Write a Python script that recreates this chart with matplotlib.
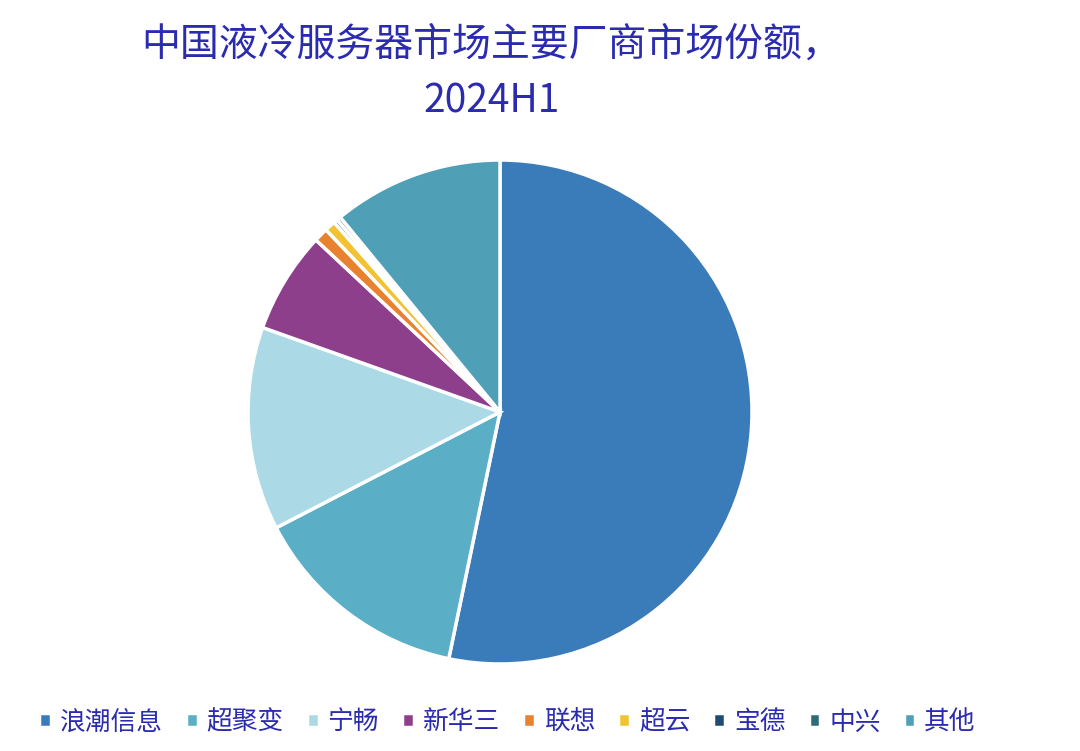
import matplotlib
matplotlib.use("Agg")
import matplotlib.pyplot as plt

plt.rcParams['font.family'] = ['Noto Sans CJK SC', 'DejaVu Sans']

vendors = ["浪潮信息", "超聚变", "宁畅", "新华三", "联想", "超云", "宝德", "中兴", "其他"]
shares = [53.1, 14.1, 13.0, 6.5, 0.9, 0.7, 0.25, 0.25, 10.9]
colors = ["#3A7BBA", "#5AAFC6", "#ABDAE6", "#8E3F8B", "#E8822E",
          "#F2C232", "#1F4A73", "#2E6B78", "#4FA0B6"]

title = "中国液冷服务器市场主要厂商市场份额，\n2024H1"
text_color = "#2B2BB0"

fig = plt.figure(figsize=(10.8, 7.51), dpi=100)
ax = fig.add_axes([248 / 1080, 87 / 751, 504 / 1080, 504 / 751])

wedges, _ = ax.pie(shares, colors=colors, startangle=90, counterclock=False,
                   wedgeprops=dict(edgecolor="white", linewidth=2.5))
ax.set_xlim(-1.0, 1.0)
ax.set_ylim(-1.0, 1.0)
ax.set_aspect("equal")

fig.text(0.455, 0.903, title, ha="center", va="center", fontsize=28,
         color=text_color, linespacing=1.55)

leg = fig.legend(wedges, vendors, loc="center", bbox_to_anchor=(0.47, 0.038),
                 ncol=9, frameon=False, fontsize=18.5, handlelength=0.45,
                 handleheight=0.45, handletextpad=0.35, columnspacing=0.9)
for t in leg.get_texts():
    t.set_color(text_color)

fig.savefig("out.png", dpi=100)
